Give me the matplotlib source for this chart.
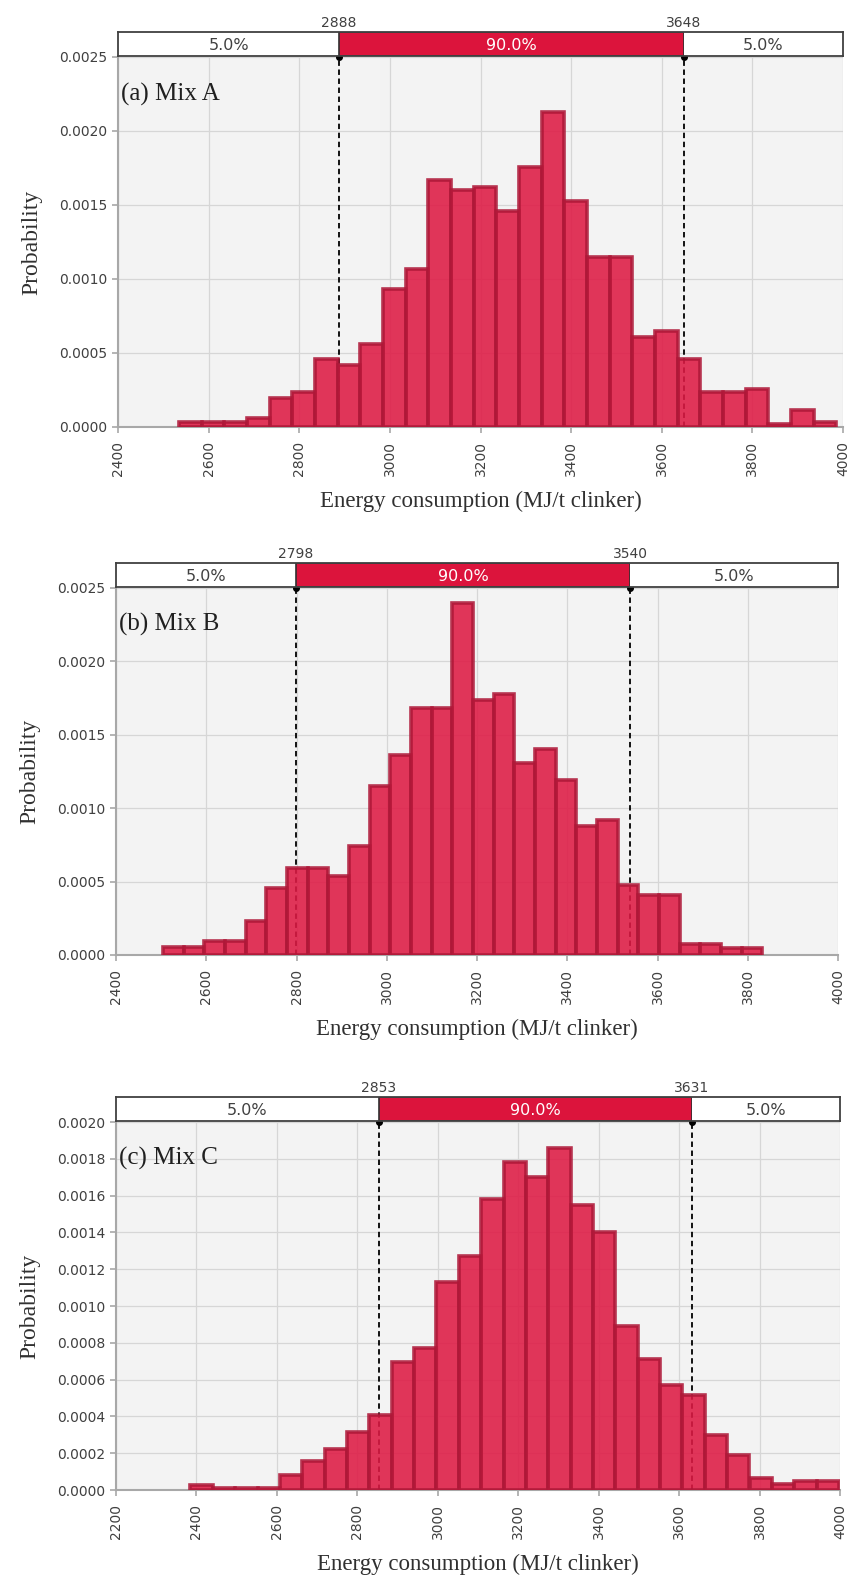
import numpy as np
import matplotlib
matplotlib.use('Agg')
import matplotlib.pyplot as plt
from matplotlib.patches import Rectangle

# bin start, bin width and bar heights
mix_a_start, mix_a_width = 2535, 50
mix_a = [0.000034, 0.000034, 0.000034, 0.000063, 0.000198, 0.000239, 0.000457,
         0.000419, 0.000563, 0.000935, 0.00107, 0.00167, 0.0016, 0.00162,
         0.00146, 0.001755, 0.002125, 0.00153, 0.00115, 0.00115, 0.00061,
         0.00065, 0.000457, 0.000239, 0.000239, 0.00026, 0.000018, 0.000113,
         0.000034]
mix_a_p5, mix_a_p95 = 2888, 3648

mix_b_start, mix_b_width = 2504, 45.8
mix_b = [0.000052, 0.000052, 0.000095, 0.000095, 0.00023, 0.000455, 0.00059,
         0.00059, 0.00054, 0.00074, 0.00115, 0.00136, 0.00168, 0.00168,
         0.0024, 0.00174, 0.00178, 0.00131, 0.0014, 0.00119, 0.00088, 0.00092,
         0.00048, 0.00041, 0.00041, 0.000075, 0.000075, 0.00005, 0.00005]
mix_b_p5, mix_b_p95 = 2798, 3540

mix_c_start, mix_c_width = 2385, 55.6
mix_c = [0.000029, 0.000009, 0.000009, 0.000009, 0.00008, 0.000159, 0.000222,
         0.000315, 0.00041, 0.000694, 0.00077, 0.00113, 0.00127, 0.00158,
         0.00178, 0.0017, 0.00186, 0.00155, 0.0014, 0.00089, 0.00071, 0.00057,
         0.000515, 0.0003, 0.00019, 0.000063, 0.000032, 0.000047, 0.000047]
mix_c_p5, mix_c_p95 = 2853, 3631

labels = ['(a) Mix A', '(b) Mix B', '(c) Mix C']
xlabel = 'Energy consumption (MJ/t clinker)'

W, H = 854, 1575
fig = plt.figure(figsize=(W / 100, H / 100), dpi=100)

serif = 'Liberation Serif'
grey_txt = '#404040'
axis_grey = '#A8A8A8'


def panel(box, start, width, heights, p5, p95, xlim, ymax, ystep, label):
    left, top, right, bottom = box
    ax = fig.add_axes([left / W, 1 - bottom / H, (right - left) / W, (bottom - top) / H])
    ax.set_facecolor('#F3F3F3')
    edges = start + width * np.arange(len(heights))
    ax.bar(edges, heights, width=width, align='edge', color='#DE1A44', alpha=0.88,
           edgecolor='#AE1838', linewidth=2.6, zorder=3)
    for p in (p5, p95):
        ax.axvline(p, color='black', ls=(0, (3, 2)), lw=1.3, zorder=2)
    ax.plot([p5, p95], [ymax, ymax], 'o', color='black', ms=4, clip_on=False, zorder=6)

    ax.set_xlim(xlim)
    ax.set_ylim(0, ymax)
    ax.set_xticks(np.arange(xlim[0], xlim[1] + 1, 200))
    ax.set_yticks(np.arange(0, ymax + ystep / 2, ystep))
    ax.yaxis.set_major_formatter(plt.FormatStrFormatter('%.4f'))
    ax.grid(True, color='#D6D6D6', lw=0.9, zorder=0)
    ax.set_axisbelow(True)
    for s in ('top', 'right'):
        ax.spines[s].set_visible(False)
    for s in ('left', 'bottom'):
        ax.spines[s].set_color(axis_grey)
        ax.spines[s].set_linewidth(1.5)
    ax.tick_params(colors=axis_grey, labelcolor=grey_txt, labelsize=10, length=4, width=1.2)
    ax.tick_params(axis='x', labelrotation=90, pad=6)
    ax.set_ylabel('Probability', family=serif, fontsize=17, color='#303030', labelpad=12)
    ax.set_xlabel(xlabel, family=serif, fontsize=16.5, color='#303030', labelpad=11)
    ax.text(0.004, 0.9, label, transform=ax.transAxes, family=serif, fontsize=18,
            color='#202020', va='center', ha='left', zorder=7)

    # percentile strip above the plot
    sb = fig.add_axes([left / W, 1 - (top - 1) / H, (right - left) / W, 24 / H])
    sb.set_xlim(xlim)
    sb.set_ylim(0, 1)
    sb.add_patch(Rectangle((xlim[0], 0), p5 - xlim[0], 1, fc='white', ec='none'))
    sb.add_patch(Rectangle((p5, 0), p95 - p5, 1, fc='#DC143C', ec='#303030', lw=1.2))
    sb.add_patch(Rectangle((p95, 0), xlim[1] - p95, 1, fc='white', ec='none'))
    for s in sb.spines.values():
        s.set_color('#404040')
        s.set_linewidth(1.3)
    sb.set_xticks([])
    sb.set_yticks([])
    sb.text((xlim[0] + p5) / 2, 0.42, '5.0%', ha='center', va='center', fontsize=11.5, color=grey_txt)
    sb.text((p5 + p95) / 2, 0.42, '90.0%', ha='center', va='center', fontsize=11.5, color='white')
    sb.text((p95 + xlim[1]) / 2, 0.42, '5.0%', ha='center', va='center', fontsize=11.5, color=grey_txt)
    for p in (p5, p95):
        sb.text(p, 1.1, str(p), ha='center', va='bottom', fontsize=10, color=grey_txt)
    return ax


panel((118, 57, 843, 427), mix_a_start, mix_a_width, mix_a, mix_a_p5, mix_a_p95,
      (2400, 4000), 0.0025, 0.0005, labels[0])
panel((116, 588, 838, 955), mix_b_start, mix_b_width, mix_b, mix_b_p5, mix_b_p95,
      (2400, 4000), 0.0025, 0.0005, labels[1])
panel((116, 1122, 840, 1490), mix_c_start, mix_c_width, mix_c, mix_c_p5, mix_c_p95,
      (2200, 4000), 0.0020, 0.0002, labels[2])

fig.savefig('out.png', dpi=100, facecolor='white')
